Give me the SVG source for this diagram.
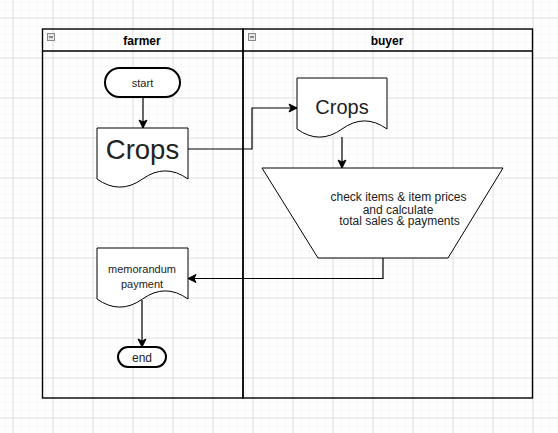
<svg xmlns="http://www.w3.org/2000/svg" width="558" height="433" viewBox="0 0 558 433">
  <defs>
    <pattern id="minor" x="13" y="18" width="8" height="8" patternUnits="userSpaceOnUse">
      <path d="M0,0 H8 M0,0 V8" fill="none" stroke="#f2f2f2" stroke-width="1"/>
    </pattern>
    <pattern id="major" x="12.5" y="17.5" width="40" height="40" patternUnits="userSpaceOnUse">
      <path d="M0,0.5 H40 M0.5,0 V40" fill="none" stroke="#e0e0e0" stroke-width="1"/>
    </pattern>
    <marker id="arrow" markerUnits="userSpaceOnUse" markerWidth="10" markerHeight="10" refX="9" refY="5" orient="auto">
      <path d="M1,1 L9,5 L1,9 L3,5 Z" fill="#000" stroke="#000" stroke-width="1"/>
    </marker>
    <style>
      .lane { fill: none; stroke: #000; stroke-width: 1.4; }
      .shape { fill: #fff; stroke: #000; stroke-width: 1; }
      .term { fill: #fff; stroke: #000; stroke-width: 2; }
      .edge { fill: none; stroke: #000; stroke-width: 1.2; marker-end: url(#arrow); }
      .hdr { font-family: "Liberation Sans", Arial, sans-serif; font-size: 12px; font-weight: bold; fill: #000; text-anchor: middle; }
      .txt { font-family: "Liberation Sans", Arial, sans-serif; fill: #222; text-anchor: middle; }
      .icon { fill: #e6e6e6; stroke: #888; stroke-width: 1; }
    </style>
  </defs>
  <rect x="0" y="0" width="558" height="433" fill="#fff"/>
  <rect x="0" y="0" width="558" height="433" fill="url(#minor)"/>
  <rect x="0" y="0" width="558" height="433" fill="url(#major)"/>

  <g id="lane-farmer">
    <rect class="lane" x="42.5" y="29" width="200.5" height="369"/>
    <line class="lane" x1="42.5" y1="51" x2="243" y2="51"/>
    <rect class="icon" x="47.5" y="33.5" width="7" height="7"/>
    <line x1="49" y1="37" x2="53" y2="37" stroke="#333" stroke-width="1"/>
    <text class="hdr" x="142" y="45">farmer</text>
  </g>
  <g id="lane-buyer">
    <rect class="lane" x="243" y="29" width="289.5" height="369"/>
    <line class="lane" x1="243" y1="51" x2="532.5" y2="51"/>
    <rect class="icon" x="248.5" y="33.5" width="7" height="7"/>
    <line x1="250" y1="37" x2="254" y2="37" stroke="#333" stroke-width="1"/>
    <text class="hdr" x="387" y="45">buyer</text>
  </g>

  <g id="connectors">
    <path class="edge" d="M143,97 V128"/>
    <path class="edge" d="M188,149 H252 V108 H297"/>
    <path class="edge" d="M342,137 V168"/>
    <path class="edge" d="M383,258 V278.5 H188"/>
    <path class="edge" d="M142,300 V347"/>
  </g>

  <g id="start">
    <rect class="term" x="105" y="68" width="75" height="29" rx="14.5"/>
    <text class="txt" x="142.5" y="87" font-size="11">start</text>
  </g>
  <g id="crops-farmer">
    <path class="shape" d="M97,128 H188 V179 Q165.25,162.8 142.5,179 Q119.75,195.2 97,179 Z"/>
    <text class="txt" x="142.5" y="159" font-size="27.5">Crops</text>
  </g>
  <g id="crops-buyer">
    <path class="shape" d="M297,78 H387 V129 Q364.5,112.8 342,129 Q319.5,145.2 297,129 Z"/>
    <text class="txt" x="342" y="114" font-size="20">Crops</text>
  </g>
  <g id="check">
    <path class="shape" d="M262,168 H503 L448,258 H318 Z"/>
    <text class="txt" x="398.5" y="201" font-size="12">check items &amp; item prices</text>
    <text class="txt" x="398" y="214" font-size="12">and calculate</text>
    <text class="txt" x="399.5" y="225" font-size="12">total sales &amp; payments</text>
  </g>
  <g id="memorandum">
    <path class="shape" d="M97,248 H188 V299 Q165.25,282.8 142.5,299 Q119.75,315.2 97,299 Z"/>
    <text class="txt" x="142" y="273" font-size="11">memorandum</text>
    <text class="txt" x="142" y="288" font-size="11">payment</text>
  </g>
  <g id="end">
    <rect class="term" x="118" y="347" width="48" height="20" rx="10"/>
    <text class="txt" x="142" y="361.5" font-size="12">end</text>
  </g>
</svg>
